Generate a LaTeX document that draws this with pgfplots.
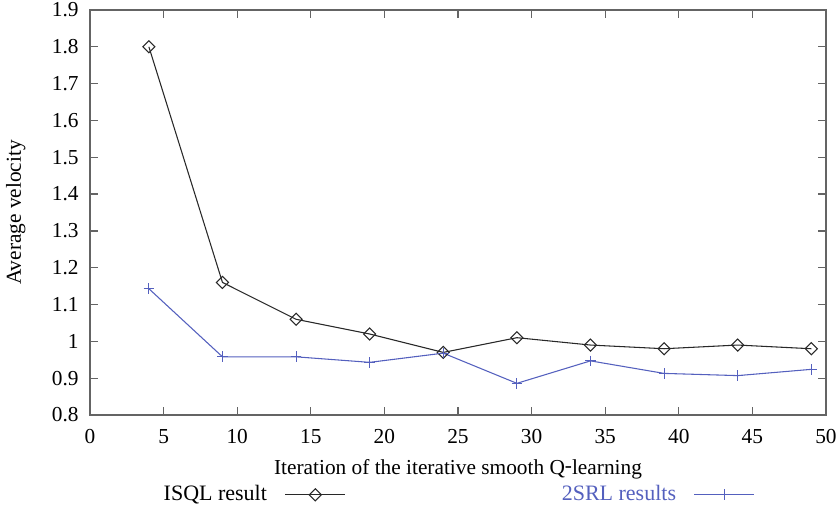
\documentclass[border=0pt]{standalone}
\usepackage{fontspec}
\setmainfont{Liberation Serif}
\usepackage{pgfplots}
\pgfplotsset{compat=1.18}
\definecolor{srlblue}{RGB}{84,96,190}
\definecolor{isqlgray}{RGB}{40,40,40}
\definecolor{axgray}{RGB}{100,100,100}
\begin{document}
\fontsize{16}{19}\selectfont
\begin{tikzpicture}
\path[use as bounding box] (0,0) rectangle (630pt,384pt);
\begin{axis}[
  at={(67.5pt,72.75pt)}, anchor=south west,
  scale only axis, width=552pt, height=303.75pt,
  xmin=0, xmax=50, ymin=0.8, ymax=1.9,
  xtick={0,5,...,50},
  ytick={0.8,0.9,1.0,1.1,1.2,1.3,1.4,1.5,1.6,1.7,1.8,1.9},
  tick align=inside, major tick length=6pt,
  axis line style={axgray, line width=1.1pt},
  every tick/.style={axgray, line width=1pt},
  /pgf/number format/assume math mode=true,
  ticklabel style={font=\fontsize{16}{19}\selectfont},
  xticklabel style={yshift=-5pt},
  yticklabel style={xshift=-3pt},
  xlabel={Iteration of the iterative smooth Q\raisebox{0.15ex}{-}learning},
  ylabel={Average velocity},
  label style={font=\fontsize{16}{19}\selectfont},
  xlabel style={yshift=-1pt},
  ylabel style={yshift=9pt},
  legend plot pos=right,
  legend columns=2,
  legend style={at={(0.5,-0.197)}, anchor=center, draw=none, fill=none,
    font=\fontsize{16.5}{19}\selectfont,
    /tikz/every even column/.append style={column sep=160pt}},
  legend image code/.code={\path (0,0); \draw[mark repeat=2,mark phase=2] plot coordinates {(0.4cm,0cm)(1.19cm,0cm)(1.98cm,0cm)};},
]
\addplot[isqlgray, line width=0.8pt, mark=square, mark size=3.2pt, mark options={rotate=45, fill=white, line width=0.8pt}]
  coordinates {(4,1.80)(9,1.16)(14,1.06)(19,1.02)(24,0.97)(29,1.01)(34,0.99)(39,0.98)(44,0.99)(49,0.98)};
\addlegendentry{ISQL result}
\addplot[srlblue, line width=0.8pt, mark=+, mark size=4pt, mark options={line width=0.8pt}]
  coordinates {(4,1.143)(9,0.958)(14,0.958)(19,0.943)(24,0.968)(29,0.886)(34,0.947)(39,0.913)(44,0.907)(49,0.924)};
\addlegendentry{\textcolor{srlblue}{2SRL results}}
\end{axis}
\end{tikzpicture}
\end{document}
